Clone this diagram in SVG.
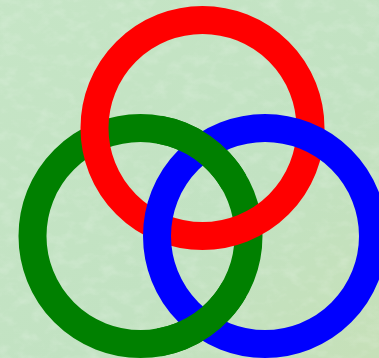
<svg xmlns="http://www.w3.org/2000/svg" width="379" height="358" viewBox="0 0 379 358">
  <defs>
    <style>
      .ring { fill: none; stroke-width: 28; }
      .red { stroke: #ff0000; }
      .green { stroke: #008000; }
      .blue { stroke: #0000ff; }
    </style>
    <filter id="tex" x="0" y="0" width="100%" height="100%">
      <feTurbulence type="fractalNoise" baseFrequency="0.06 0.09" numOctaves="3" seed="7" result="n"/>
      <feColorMatrix in="n" type="matrix" values="0 0 0 0 1  0 0 0 0 1  0 0 0 0 1  1.2 0 0 0 -0.55"/>
    </filter>
    <linearGradient id="bg" x1="0" y1="0" x2="1" y2="1">
      <stop offset="0" stop-color="#c6e5c6"/>
      <stop offset="0.6" stop-color="#c2e2c2"/>
      <stop offset="1" stop-color="#c6e0b8"/>
    </linearGradient>
  </defs>
  <g id="background">
    <rect x="0" y="0" width="379" height="358" fill="url(#bg)"/>
    <rect x="0" y="0" width="379" height="358" filter="url(#tex)" opacity="0.35"/>
  </g>
  <g id="green-ring">
    <circle class="ring green" cx="140.5" cy="236" r="108"/>
  </g>
  <g id="red-ring">
    <circle class="ring red" cx="202.5" cy="128" r="108"/>
  </g>
  <g id="blue-ring">
    <circle class="ring blue" cx="265" cy="236" r="108"/>
  </g>
  <g id="green-over-blue">
    <path class="ring green" d="M159.25,129.64 A108,108 0 0 1 234.03,182"/>
    <path class="ring green" d="M234.03,290 A108,108 0 0 1 159.25,342.36"/>
  </g>
</svg>
